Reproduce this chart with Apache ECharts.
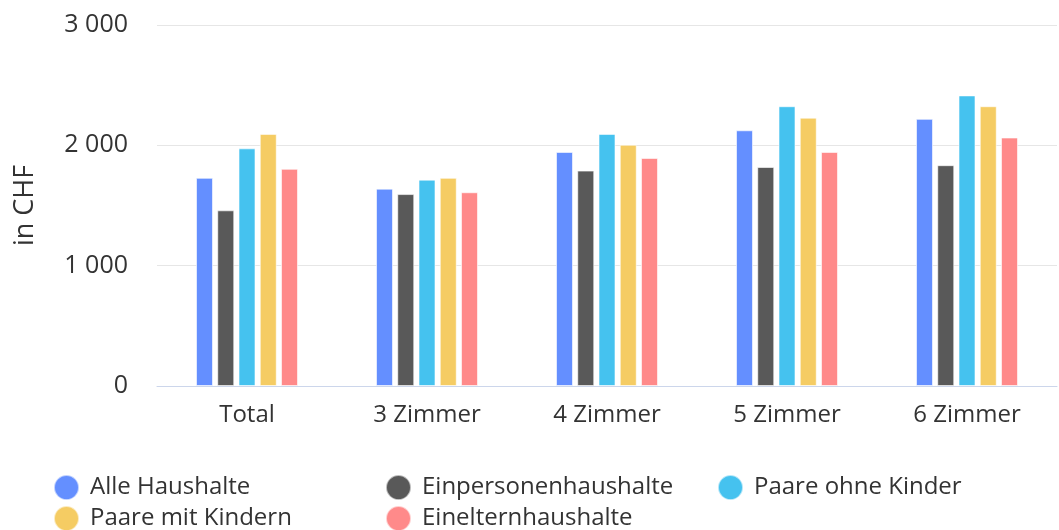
<!DOCTYPE html>
<html><head><meta charset="utf-8">
<script src="https://cdn.jsdelivr.net/npm/echarts@6/dist/echarts.min.js"></script>
<style>html,body{margin:0;padding:0;background:#fff}#c{width:1059px;height:530px}</style>
</head><body><div id="c"></div>
<script>
const categories = ['Total', '3 Zimmer', '4 Zimmer', '5 Zimmer', '6 Zimmer'];
const seriesNames = ['Alle Haushalte', 'Einpersonenhaushalte', 'Paare ohne Kinder', 'Paare mit Kindern', 'Einelternhaushalte'];
const alleHaushalte = [1730, 1640, 1945, 2125, 2220];
const einpersonen = [1460, 1595, 1790, 1820, 1835];
const paareOhneKinder = [1975, 1715, 2095, 2325, 2415];
const paareMitKindern = [2095, 1730, 2005, 2230, 2325];
const einelternhaushalte = [1805, 1610, 1895, 1945, 2065];
const yTicks = [0, 1000, 2000, 3000];
const colors = ['#648fff', '#595959', '#45c2ef', '#f5cc63', '#ff8a8a'];

const values = [alleHaushalte, einpersonen, paareOhneKinder, paareMitKindern, einelternhaushalte];
const font = 'Open Sans';
const legendText = {fontFamily: font, fontSize: 24, color: '#333', lineHeight: 25, padding: [0, 0, 0, 6]};
function legend(left, names) {
  return {
    left: left, top: 474, height: 200, width: 320, orient: 'vertical', padding: 0,
    icon: 'circle', itemWidth: 25, itemHeight: 25, itemGap: 4,
    data: names, textStyle: legendText
  };
}
const chart = echarts.init(document.getElementById('c'));
chart.setOption({
  animation: false,
  color: colors,
  grid: {left: 157, right: 2, top: 25, bottom: 144, containLabel: false},
  legend: [
    legend(53, [seriesNames[0], seriesNames[3]]),
    legend(385, [seriesNames[1], seriesNames[4]]),
    legend(717, [seriesNames[2]])
  ],
  xAxis: {
    type: 'category', data: categories,
    axisLine: {lineStyle: {color: '#ccd6eb'}},
    axisTick: {show: false},
    axisLabel: {fontFamily: font, fontSize: 24, color: '#333', margin: 17}
  },
  yAxis: {
    type: 'value', min: 0, max: 3000, interval: 1000,
    name: 'in CHF', nameLocation: 'middle', nameGap: 118, nameRotate: 90,
    nameTextStyle: {fontFamily: font, fontSize: 27, color: '#333'},
    axisLine: {show: false}, axisTick: {show: false},
    splitLine: {lineStyle: {color: '#e6e6e6'}},
    axisLabel: {fontFamily: font, fontSize: 25, color: '#333', margin: 29,
      formatter: v => yTicks.includes(v) ? String(v).replace(/\B(?=(\d{3})+(?!\d))/g, ' ') : ''}
  },
  series: seriesNames.map((n, i) => ({
    name: n, type: 'bar', data: values[i], barWidth: 17, barGap: '25%',
    itemStyle: {borderColor: 'rgba(255,255,255,0.6)', borderWidth: 1}
  }))
});
</script></body></html>
